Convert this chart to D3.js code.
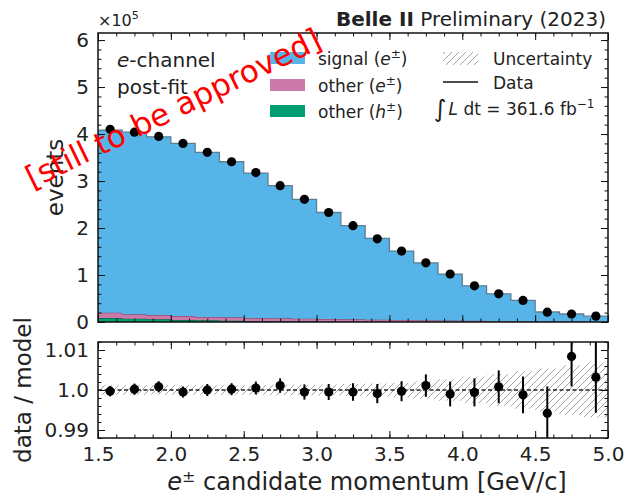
<!DOCTYPE html>
<html>
<head>
<meta charset="utf-8">
<script src="https://cdn.jsdelivr.net/npm/d3@7"></script>
<style>
body { margin: 0; background: #fff; }
svg { display: block; font-family: "DejaVu Sans", sans-serif; }
</style>
</head>
<body>
<script>
var width = 625, height = 496;

// 21 equal bins in e momentum [GeV/c]
var xLo = 1.5, xHi = 5.0, nBins = 21;

// post-fit templates, units of 1e5 events
var signal = [3.881, 3.877, 3.791, 3.672, 3.504, 3.311, 3.085, 2.822, 2.539, 2.266, 1.993,
              1.730, 1.466, 1.222, 0.987, 0.743, 0.578, 0.443, 0.202, 0.161, 0.118];
var otherE = [0.114, 0.092, 0.092, 0.085, 0.071, 0.071, 0.064, 0.064, 0.057, 0.057, 0.050,
              0.045, 0.040, 0.035, 0.030, 0.025, 0.020, 0.015, 0.010, 0.008, 0.006];
var otherH = [0.085, 0.071, 0.057, 0.043, 0.035, 0.028, 0.021, 0.014, 0.014, 0.007, 0.007,
              0.005, 0.004, 0.003, 0.003, 0.002, 0.002, 0.002, 0.001, 0.001, 0.001];
var dataVals = [4.10, 4.04, 3.95, 3.80, 3.61, 3.41, 3.18, 2.90, 2.61, 2.33, 2.05,
                1.77, 1.51, 1.26, 1.02, 0.77, 0.60, 0.46, 0.21, 0.17, 0.125];

// ratio panel
var ratio = [0.9997, 1.0002, 1.0008, 0.9995, 1.0000, 1.0002, 1.0005, 1.0011, 0.9995, 0.9995, 0.9995,
             0.9991, 0.9997, 1.0011, 0.9990, 0.9994, 1.0008, 0.9988, 0.9942, 1.0084, 1.0032];
var ratioErr = [0.0013, 0.0014, 0.0014, 0.0014, 0.0015, 0.0015, 0.0016, 0.0018, 0.0019, 0.0020, 0.0022,
                0.0024, 0.0025, 0.0028, 0.0031, 0.0035, 0.0041, 0.0046, 0.0067, 0.0075, 0.0089];
var uncert = [0.0012, 0.0012, 0.0012, 0.0012, 0.0012, 0.0012, 0.0012, 0.0013, 0.0013, 0.0014, 0.0015,
              0.0016, 0.0018, 0.0022, 0.0027, 0.0033, 0.0040, 0.0047, 0.0054, 0.0062, 0.0069];

var xTicks = [1.5, 2.0, 2.5, 3.0, 3.5, 4.0, 4.5, 5.0];
var xTickLabels = ["1.5", "2.0", "2.5", "3.0", "3.5", "4.0", "4.5", "5.0"];
var yTicks = [0, 1, 2, 3, 4, 5, 6];
var yTickLabels = ["0", "1", "2", "3", "4", "5", "6"];
var rTicks = [0.99, 1.0, 1.01];
var rTickLabels = ["0.99", "1.0", "1.01"];

var colors = { signal: "#56B4E9", otherE: "#CC79A7", otherH: "#009E73" };
var edgeColors = { signal: "#5d7f94", otherE: "#8d4f73", otherH: "#006b4e" };

var left = 98, right = 608;
var mainTop = 33, mainBot = 322, ratTop = 342, ratBot = 438;

var svg = d3.select("body").append("svg")
    .attr("width", width)
    .attr("height", height);

var defs = svg.append("defs");
var hatch = defs.append("pattern")
    .attr("id", "hatch")
    .attr("patternUnits", "userSpaceOnUse")
    .attr("width", 7).attr("height", 7);
hatch.append("path")
    .attr("d", "M-1,1 L1,-1 M0,7 L7,0 M6,8 L8,6")
    .attr("stroke", "#9a9a9a")
    .attr("stroke-width", 0.9);

var x = d3.scaleLinear().domain([xLo, xHi]).range([left, right]);
var y = d3.scaleLinear().domain([0, 6.15]).range([mainBot, mainTop]);
var yr = d3.scaleLinear().domain([0.988, 1.012]).range([ratBot, ratTop]);

var edges = d3.range(nBins + 1).map(function(i) { return xLo + i * (xHi - xLo) / nBins; });
var centers = d3.range(nBins).map(function(i) { return (edges[i] + edges[i + 1]) / 2; });

var bins = centers.map(function(c, i) {
  return { signal: signal[i], otherE: otherE[i], otherH: otherH[i] };
});

// ---------- main panel ----------
var clipMain = defs.append("clipPath").attr("id", "clipMain");
clipMain.append("rect").attr("x", left).attr("y", mainTop).attr("width", right - left).attr("height", mainBot - mainTop);
var clipRat = defs.append("clipPath").attr("id", "clipRat");
clipRat.append("rect").attr("x", left).attr("y", ratTop).attr("width", right - left).attr("height", ratBot - ratTop);

var layers = d3.stack().keys(["otherH", "otherE", "signal"])(bins);

function stepPts(layer) {
  var pts = [];
  layer.forEach(function(d, i) {
    pts.push({ x: edges[i], y0: d[0], y1: d[1] });
    pts.push({ x: edges[i + 1], y0: d[0], y1: d[1] });
  });
  return pts;
}

var area = d3.area()
    .x(function(d) { return x(d.x); })
    .y0(function(d) { return y(d.y0); })
    .y1(function(d) { return y(d.y1); });
var topLine = d3.line()
    .x(function(d) { return x(d.x); })
    .y(function(d) { return y(d.y1); });

var gMain = svg.append("g").attr("clip-path", "url(#clipMain)");
layers.forEach(function(layer) {
  var pts = stepPts(layer);
  gMain.append("path").attr("d", area(pts)).attr("fill", colors[layer.key]);
  gMain.append("path").attr("d", topLine(pts))
      .attr("fill", "none")
      .attr("stroke", edgeColors[layer.key])
      .attr("stroke-width", 1.3);
});

gMain.selectAll("circle.data")
    .data(dataVals)
    .enter().append("circle")
    .attr("class", "data")
    .attr("cx", function(d, i) { return x(centers[i]); })
    .attr("cy", function(d) { return y(d); })
    .attr("r", 4.6)
    .attr("fill", "#000");

// ---------- ratio panel ----------
var gRat = svg.append("g").attr("clip-path", "url(#clipRat)");
var bandPts = [];
uncert.forEach(function(u, i) {
  bandPts.push({ x: edges[i], u: u });
  bandPts.push({ x: edges[i + 1], u: u });
});
gRat.append("path")
    .attr("d", d3.area()
        .x(function(d) { return x(d.x); })
        .y0(function(d) { return yr(1 - d.u); })
        .y1(function(d) { return yr(1 + d.u); })(bandPts))
    .attr("fill", "url(#hatch)");

gRat.append("line")
    .attr("x1", x(xLo)).attr("x2", x(xHi))
    .attr("y1", yr(1)).attr("y2", yr(1))
    .attr("stroke", "#222").attr("stroke-width", 1.3)
    .attr("stroke-dasharray", "4,2.5");

gRat.selectAll("line.err")
    .data(ratio)
    .enter().append("line")
    .attr("class", "err")
    .attr("x1", function(d, i) { return x(centers[i]); })
    .attr("x2", function(d, i) { return x(centers[i]); })
    .attr("y1", function(d, i) { return yr(d - ratioErr[i]); })
    .attr("y2", function(d, i) { return yr(d + ratioErr[i]); })
    .attr("stroke", "#000").attr("stroke-width", 2);

gRat.selectAll("circle.r")
    .data(ratio)
    .enter().append("circle")
    .attr("class", "r")
    .attr("cx", function(d, i) { return x(centers[i]); })
    .attr("cy", function(d) { return yr(d); })
    .attr("r", 4.6)
    .attr("fill", "#000");

// ---------- axes ----------
var xMinor = d3.range(29).map(function(i) { return xLo + i * 0.125; });
var yMinor = d3.range(31).map(function(i) { return i * 0.2; });
var rMinor = d3.range(13).map(function(i) { return 0.988 + i * 0.002; });

function addAxis(orient, scale, major, minor, labels, tx, ty) {
  var mk = { left: d3.axisLeft, right: d3.axisRight, top: d3.axisTop, bottom: d3.axisBottom }[orient];
  svg.append("g")
      .attr("transform", "translate(" + tx + "," + ty + ")")
      .call(mk(scale).tickValues(minor).tickSize(-3.5).tickFormat(""))
      .call(function(g) { g.select(".domain").remove(); });
  var g = svg.append("g")
      .attr("transform", "translate(" + tx + "," + ty + ")")
      .call(mk(scale).tickValues(major).tickSize(-7)
          .tickPadding(9)
          .tickFormat(function(d, i) { return labels ? labels[i] : ""; }))
      .call(function(g) { g.select(".domain").remove(); });
  g.attr("font-family", "DejaVu Sans").attr("font-size", 20);
  g.selectAll("text").attr("fill", "#222");
  svg.selectAll(".tick line").attr("stroke", "#111").attr("stroke-width", 1);
}

// main
addAxis("left", y, yTicks, yMinor, yTickLabels, left, 0);
addAxis("right", y, yTicks, yMinor, null, right, 0);
addAxis("bottom", x, xTicks, xMinor, null, 0, mainBot);
addAxis("top", x, xTicks, xMinor, null, 0, mainTop);
// ratio
addAxis("left", yr, rTicks, rMinor, rTickLabels, left, 0);
addAxis("right", yr, rTicks, rMinor, null, right, 0);
addAxis("bottom", x, xTicks, xMinor, xTickLabels, 0, ratBot);
addAxis("top", x, xTicks, xMinor, null, 0, ratTop);

svg.append("rect")
    .attr("x", left).attr("y", mainTop)
    .attr("width", right - left).attr("height", mainBot - mainTop)
    .attr("fill", "none").attr("stroke", "#111").attr("stroke-width", 1.5);
svg.append("rect")
    .attr("x", left).attr("y", ratTop)
    .attr("width", right - left).attr("height", ratBot - ratTop)
    .attr("fill", "none").attr("stroke", "#111").attr("stroke-width", 1.5);

// ---------- labels ----------
var ink = "#222";

var xl = svg.append("text")
    .attr("x", 367).attr("y", 490)
    .attr("text-anchor", "middle").attr("font-size", 24).attr("fill", ink);
xl.append("tspan").attr("font-style", "italic").text("e");
xl.append("tspan").attr("font-size", 16).attr("dy", -8).text("±");
xl.append("tspan").attr("dy", 8).text(" candidate momentum [GeV/c]");

svg.append("text")
    .attr("transform", "translate(63," + (mainTop + mainBot) / 2 + ") rotate(-90)")
    .attr("text-anchor", "middle").attr("font-size", 23).attr("fill", ink)
    .text("events");

svg.append("text")
    .attr("transform", "translate(31," + (ratTop + ratBot) / 2 + ") rotate(-90)")
    .attr("text-anchor", "middle").attr("font-size", 23).attr("fill", ink)
    .text("data / model");

var sci = svg.append("text").attr("x", left).attr("y", 26).attr("font-size", 16).attr("fill", ink);
sci.append("tspan").text("×10");
sci.append("tspan").attr("font-size", 11).attr("dy", -7).text("5");

var title = svg.append("text")
    .attr("x", 606).attr("y", 26)
    .attr("text-anchor", "end").attr("font-size", 20).attr("fill", ink);
title.append("tspan").attr("font-weight", "bold").text("Belle II");
title.append("tspan").text(" Preliminary (2023)");

var ch = svg.append("text").attr("x", 117).attr("y", 67).attr("font-size", 20).attr("fill", ink);
ch.append("tspan").attr("font-style", "italic").text("e");
ch.append("tspan").text("-channel");
svg.append("text").attr("x", 117).attr("y", 94).attr("font-size", 20).attr("fill", ink).text("post-fit");

// legend: templates
var legendItems = [
  { key: "signal", name: "signal", sym: "e", y: 52 },
  { key: "otherE", name: "other", sym: "e", y: 79 },
  { key: "otherH", name: "other", sym: "h", y: 105 }
];
legendItems.forEach(function(d) {
  svg.append("rect")
      .attr("x", 270).attr("y", d.y)
      .attr("width", 35).attr("height", 12)
      .attr("fill", colors[d.key]);
  var t = svg.append("text").attr("x", 318).attr("y", d.y + 13)
      .attr("font-size", 17).attr("fill", ink);
  t.append("tspan").text(d.name + " (");
  t.append("tspan").attr("font-style", "italic").text(d.sym);
  t.append("tspan").attr("font-size", 12).attr("dy", -7).text("±");
  t.append("tspan").attr("dy", 7).text(")");
});

// legend: uncertainty / data / lumi
svg.append("rect")
    .attr("x", 443).attr("y", 52).attr("width", 35).attr("height", 13)
    .attr("fill", "url(#hatch)");
svg.append("text").attr("x", 493).attr("y", 65).attr("font-size", 17).attr("fill", ink).text("Uncertainty");
svg.append("line")
    .attr("x1", 443).attr("x2", 478).attr("y1", 82).attr("y2", 82)
    .attr("stroke", "#111").attr("stroke-width", 1.6);
svg.append("text").attr("x", 493).attr("y", 89).attr("font-size", 17).attr("fill", ink).text("Data");

var lumi = svg.append("text").attr("x", 434).attr("y", 115).attr("font-size", 17).attr("fill", ink);
lumi.append("tspan").attr("font-size", 24).attr("dy", 2).text("∫");
lumi.append("tspan").attr("font-style", "italic").attr("dy", -2).attr("dx", 2).text("L");
lumi.append("tspan").text(" dt = 361.6 fb");
lumi.append("tspan").attr("font-size", 12).attr("dy", -7).text("−1");

// watermark
svg.append("text")
    .attr("transform", "translate(178,118) rotate(-26)")
    .attr("text-anchor", "middle")
    .attr("font-size", 31)
    .attr("fill", "#ff0000")
    .text("[still to be approved]");
</script>
</body>
</html>
